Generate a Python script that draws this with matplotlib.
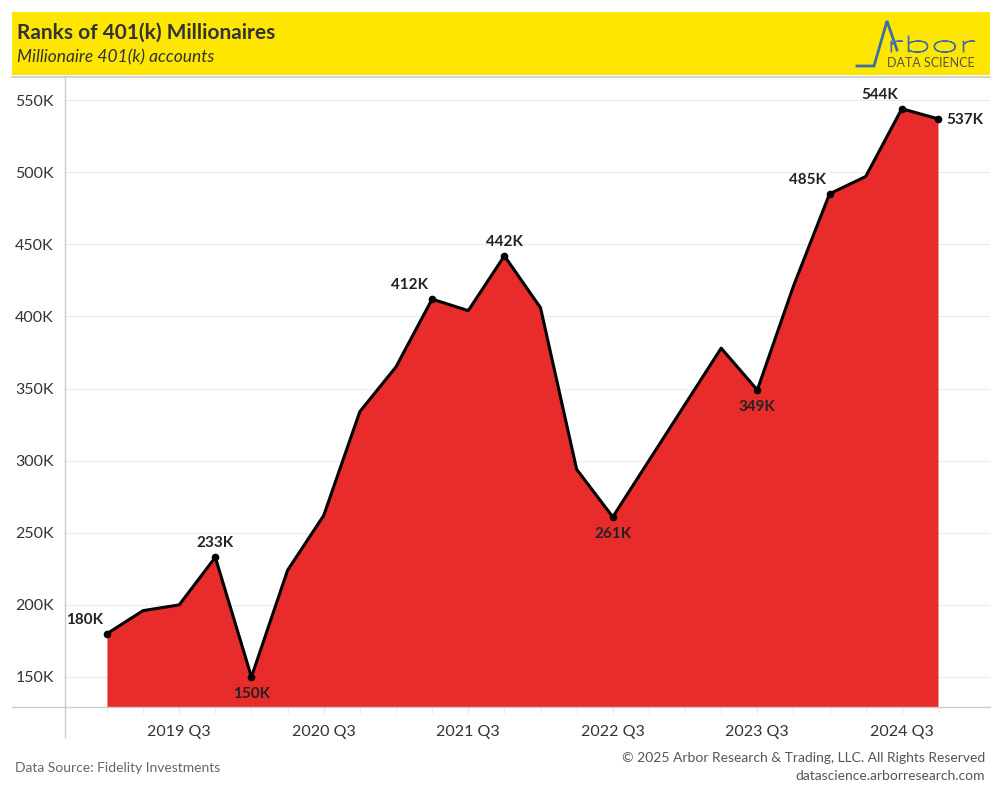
import matplotlib
matplotlib.use("Agg")
import matplotlib.pyplot as plt
from matplotlib.lines import Line2D
from matplotlib.textpath import TextPath
from matplotlib.patches import PathPatch
from matplotlib.font_manager import FontProperties
from matplotlib.transforms import Affine2D
import numpy as np

plt.rcParams['font.family'] = ['Lato', 'DejaVu Sans']

quarters = ['2019 Q1', '2019 Q2', '2019 Q3', '2019 Q4',
            '2020 Q1', '2020 Q2', '2020 Q3', '2020 Q4',
            '2021 Q1', '2021 Q2', '2021 Q3', '2021 Q4',
            '2022 Q1', '2022 Q2', '2022 Q3', '2022 Q4',
            '2023 Q1', '2023 Q2', '2023 Q3', '2023 Q4',
            '2024 Q1', '2024 Q2', '2024 Q3', '2024 Q4']
millionaires_k = [180, 196, 200, 233,
                  150, 224, 262, 334,
                  365, 412, 404, 442,
                  406, 294, 261, 300,
                  339, 378, 349, 421,
                  485, 497, 544, 537]
labeled = {'2019 Q1': 'ul', '2019 Q4': 'u', '2020 Q1': 'd', '2021 Q2': 'ul',
           '2021 Q4': 'u', '2022 Q3': 'd', '2023 Q3': 'd', '2024 Q1': 'ul',
           '2024 Q3': 'ul', '2024 Q4': 'r'}
tick_labels = ['2019 Q3', '2020 Q3', '2021 Q3', '2022 Q3', '2023 Q3', '2024 Q3']
yticks_k = [150, 200, 250, 300, 350, 400, 450, 500, 550]

fig = plt.figure(figsize=(10, 8), dpi=100)
W, H = 1000, 800

def fx(px):
    return px / W

def fy(py):
    return 1 - py / H

# header
fig.patches.append(plt.Rectangle((fx(12), fy(75)), fx(978), 63 / H, transform=fig.transFigure,
                                 facecolor='#ffe600', edgecolor='none', zorder=0))
fig.text(fx(17), fy(33), 'Ranks of 401(k) Millionaires', fontsize=15, fontweight='bold',
         color='#333333', va='center', ha='left')
fig.text(fx(17), fy(57), 'Millionaire 401(k) accounts', fontsize=12.5, style='italic',
         color='#333333', va='center', ha='left')

# logo
logo_c = '#3a6ea8'
fig.add_artist(Line2D([fx(857), fx(874), fx(887), fx(897)], [fy(66), fy(66), fy(21), fy(50)],
                      transform=fig.transFigure, color=logo_c, lw=2.0, solid_joinstyle='miter'))
tp = TextPath((0, 0), 'rbor', size=1, prop=FontProperties(family='Lato', weight='light'))
bb = tp.get_extents()
sx = (975 - 891) / bb.width
sy = (52 - 36) / bb.y1
tr = (Affine2D().translate(-bb.x0, 0).scale(sx / W, sy / H).translate(fx(891), fy(52))
      + fig.transFigure)
fig.patches.append(PathPatch(tp, transform=tr, facecolor=logo_c, edgecolor=logo_c, lw=0.8))
fig.text(fx(975), fy(63), 'DATA SCIENCE', fontsize=9, color='#555548', va='center', ha='right')

# separators
fig.add_artist(Line2D([fx(12), fx(990)], [fy(76.5), fy(76.5)], transform=fig.transFigure,
                      color='#cccccc', lw=1.2))
fig.add_artist(Line2D([fx(12), fx(990)], [fy(707), fy(707)], transform=fig.transFigure,
                      color='#cccccc', lw=1))
fig.add_artist(Line2D([fx(65), fx(65)], [fy(78), fy(737)], transform=fig.transFigure,
                      color='#cccccc', lw=1))

ax = fig.add_axes([fx(65), fy(707), fx(990 - 65), (707 - 78) / H])
x = np.arange(len(quarters))
ax.fill_between(x, millionaires_k, 129.2, color='#e82c2c', lw=0, zorder=2)
ax.plot(x, millionaires_k, color='black', lw=2.2, zorder=3, solid_joinstyle='round')

for q, mode in labeled.items():
    i = quarters.index(q)
    v = millionaires_k[i]
    ax.plot(i, v, 'o', color='black', ms=4.5, zorder=4)
    txt = f'{v}K'
    kw = dict(fontsize=11, fontweight='bold', color='#222222', zorder=5)
    if mode == 'u':
        ax.annotate(txt, (i, v), xytext=(0, 5), textcoords='offset points', ha='center', va='bottom', **kw)
    elif mode == 'd':
        ax.annotate(txt, (i, v), xytext=(0, -7), textcoords='offset points', ha='center', va='top', **kw)
    elif mode == 'ul':
        ax.annotate(txt, (i, v), xytext=(-3, 5), textcoords='offset points', ha='right', va='bottom', **kw)
    elif mode == 'r':
        ax.annotate(txt, (i, v), xytext=(6, -1), textcoords='offset points', ha='left', va='center', **kw)

ax.set_xlim(-1.16, 24.44)
ax.set_ylim(129.2, 565.3)
ax.set_yticks(yticks_k)
ax.set_yticklabels([f'{v}K' for v in yticks_k], fontsize=11.5, color='#333333')
ax.set_xticks([quarters.index(t) for t in tick_labels])
ax.set_xticklabels(tick_labels, fontsize=11.5, color='#333333')
ax.set_xticks(x, minor=True)
ax.tick_params(axis='x', which='major', length=4, color='#e4e4e4', pad=9)
ax.tick_params(axis='x', which='minor', length=4, color='#e4e4e4')
ax.tick_params(axis='y', length=0, pad=8)
ax.grid(axis='y', color='#ececec', lw=0.8, zorder=0)
for s in ax.spines.values():
    s.set_visible(False)
ax.set_facecolor('white')

# footer
fig.text(fx(15), fy(768), 'Data Source: Fidelity Investments', fontsize=10, color='#666666',
         va='center', ha='left')
fig.text(fx(985), fy(758), '© 2025 Arbor Research & Trading, LLC. All Rights Reserved', fontsize=10,
         color='#555555', va='center', ha='right')
fig.text(fx(985), fy(776), 'datascience.arborresearch.com', fontsize=10, color='#555555',
         va='center', ha='right')

fig.savefig('out.png', dpi=100, facecolor='white')
